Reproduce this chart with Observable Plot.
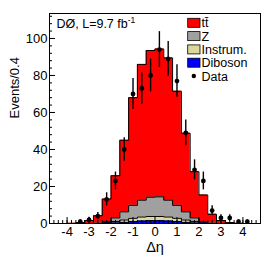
<!DOCTYPE html>
<html><head><meta charset="utf-8">
<script src="https://cdn.jsdelivr.net/npm/d3@7"></script>
<script src="https://cdn.jsdelivr.net/npm/@observablehq/plot@0.6"></script>
<style>
html,body{margin:0;padding:0;background:#fff;}
#wrap{position:relative;width:273px;height:262px;font-family:"Liberation Sans",Arial,sans-serif;}
#wrap svg{display:block;}
#overlay{position:absolute;left:0;top:0;pointer-events:none;}
</style></head><body><div id="wrap"></div>
<script>
// Bin edges (Δη, bin width 0.4)
const binEdges = [-4.8,-4.4,-4.0,-3.6,-3.2,-2.8,-2.4,-2.0,-1.6,-1.2,-0.8,-0.4,0,0.4,0.8,1.2,1.6,2.0,2.4,2.8,3.2,3.6,4.0,4.4,4.8];
// Stacked MC components per bin (24 bins)
const diboson = [0,0,0,0,0,0, 0.1,0.3,0.6,1.0,1.3,1.5,1.5,1.3,1.0,0.6,0.3,0.1, 0,0,0,0,0,0];
const instrum = [0,0,0,0,0,0.1, 0.4,0.8,1.3,1.8,2.2,2.3,2.3,2.2,1.8,1.3,0.8,0.4, 0.1,0,0,0,0,0];
const zjets   = [0,0,0,0,0,0.1, 0.5,1.9,4.4,7.0,9.1,10.4,10.6,9.1,7.0,4.4,1.9,0.5, 0.1,0,0,0,0,0];
const ttbar   = [0,0,0.1,0.5,1.6,4.0, 12.2,22.8,38.7,58.2,73.4,79.3,79.9,76.9,61.7,42.5,25.0,14.4, 4.8,1.6,0.5,0.1,0,0];
// Data points
const dataX   = [-3.4,-3.0,-2.6,-2.2,-1.8,-1.4,-1.0,-0.6,-0.2,0.2,0.6,1.0,1.4,1.8,2.2,2.6,3.0,3.4,3.8,4.2];
const dataY   = [1,2,4,13,23,40,70,73,80,94,89,77,49,29,23,7,3,3,1,1];
const dataErr = [1,1.4,2,3.6,4.8,6.3,8.4,8.5,8.9,9.7,9.4,8.8,7,5.4,4.8,2.6,1.7,1.7,1,1];
// Axis ticks
const xTickVals = [-4,-3,-2,-1,0,1,2,3,4];
const yTickVals = [0,20,40,60,80,100];
// Legend
const legendLabels = ["t\u0074\u0304","Z","Instrum.","Diboson","Data"];
const legendColors = ["#ff0000","#a0a0a0","#dcd79b","#0000ff",null];
const colors = {tt:"#ff0000", z:"#a0a0a0", instr:"#dcd79b", dib:"#0000ff"};

const W = 273, H = 262, mL = 49, mR = 13, mT = 13, mB = 39;
const innerW = W - mL - mR, innerH = H - mT - mB;

// cumulative stack, as step points at each bin edge
const steps = binEdges.map((x, i) => {
  const k = Math.min(i, ttbar.length - 1);
  const c1 = diboson[k], c2 = c1 + instrum[k], c3 = c2 + zjets[k], c4 = c3 + ttbar[k];
  return {x, c1, c2, c3, c4};
});
const pts = dataX.map((x, i) => ({x, y: dataY[i], e: dataErr[i]}));
const xMinor = d3.range(-48, 49, 2).map(v => v / 10);
const yMinor = d3.range(0, 113, 4);

const layer = (key, fill) => [
  Plot.areaY(steps, {x: "x", y1: 0, y2: key, fill, curve: "step-after"}),
  Plot.lineY(steps, {x: "x", y: key, stroke: "black", strokeWidth: 1, curve: "step-after"})
];

const chart = Plot.plot({
  width: W, height: H,
  marginLeft: mL, marginRight: mR, marginTop: mT, marginBottom: mB,
  style: {fontFamily: "'Liberation Sans', Arial, sans-serif", background: "white", color: "black"},
  x: {domain: [-4.8, 4.8]},
  y: {domain: [0, 113.5]},
  marks: [
    ...layer("c4", colors.tt),
    ...layer("c3", colors.z),
    ...layer("c2", colors.instr),
    ...layer("c1", colors.dib),
    Plot.ruleX(xTickVals, {x: d => d, insetTop: innerH - 6, stroke: "black"}),
    Plot.ruleX(xMinor, {x: d => d, insetTop: innerH - 3, stroke: "black"}),
    Plot.ruleY(yTickVals, {y: d => d, insetRight: innerW - 6, stroke: "black"}),
    Plot.ruleY(yMinor, {y: d => d, insetRight: innerW - 3, stroke: "black"}),
    Plot.frame({stroke: "black", strokeWidth: 1}),
    Plot.ruleX(pts, {x: "x", y1: d => d.y - d.e, y2: d => d.y + d.e, stroke: "black", strokeWidth: 1.4}),
    Plot.dot(pts, {x: "x", y: "y", r: 2.4, fill: "black"}),
    Plot.axisX({ticks: xTickVals, tickSize: 0, tickPadding: 3, fontSize: 13, tickFormat: d => String(d), label: null}),
    Plot.axisY({ticks: yTickVals, tickSize: 0, tickPadding: 2, fontSize: 13, tickFormat: d => String(d), label: null}),
    Plot.text(["Events/0.4"], {text: d => d, frameAnchor: "left", dx: -35, rotate: -90, fontSize: 13}),
    Plot.text(["Δη"], {text: d => d, frameAnchor: "bottom", dy: 28.5, fontSize: 14.5})
  ]
});
document.getElementById("wrap").appendChild(chart);

// Overlay: header + legend
const ov = d3.select("#wrap").append("svg").attr("id", "overlay")
  .attr("width", W).attr("height", H)
  .style("font-family", "'Liberation Sans', Arial, sans-serif");
const hdr = ov.append("text").attr("x", 56.5).attr("y", 28).attr("font-size", 12.5).attr("fill", "black");
hdr.append("tspan").text("DØ, L=9.7 fb");
hdr.append("tspan").attr("dy", -5).attr("font-size", 8.5).text("-1");

legendLabels.forEach((lab, i) => {
  const yc = 22.8 + i * 13.3;
  if (legendColors[i]) {
    ov.append("rect").attr("x", 187.7).attr("y", yc - 4.5).attr("width", 12.3).attr("height", 9)
      .attr("fill", legendColors[i]).attr("stroke", "black").attr("stroke-width", 0.8);
  } else {
    ov.append("circle").attr("cx", 193.8).attr("cy", yc).attr("r", 2.2).attr("fill", "black");
  }
  ov.append("text").attr("x", 201.5).attr("y", yc).attr("dy", "0.36em")
    .attr("font-size", 12.5).attr("fill", "black").text(lab);
});
</script>
</body></html>
